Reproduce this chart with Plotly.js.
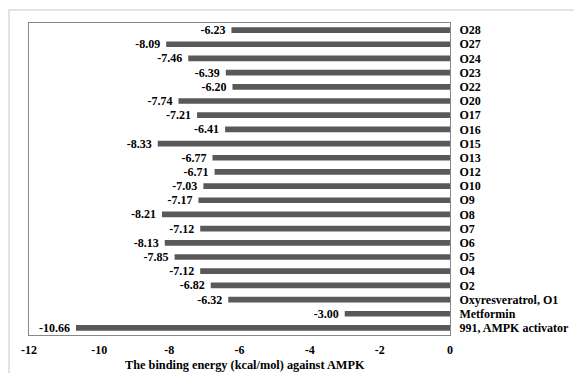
<!DOCTYPE html>
<html><head><meta charset="utf-8">
<script src="https://cdn.plot.ly/plotly-3.0.1.min.js"></script>
<style>
html,body{margin:0;padding:0;background:#fff;}
#wrap{position:relative;width:574px;height:373px;}
#frame{position:absolute;left:8px;top:9px;width:580px;height:380px;border-left:2px solid #e3e3e3;border-top:2px solid #e3e3e3;}
#chart{position:absolute;left:0;top:0;width:574px;height:373px;}
</style></head>
<body><div id="wrap"><div id="frame"></div><div id="chart"></div></div>
<script>
const categories = ["991, AMPK activator","Metformin","Oxyresveratrol, O1","O2","O4","O5","O6","O7","O8","O9","O10","O12","O13","O15","O16","O17","O20","O22","O23","O24","O27","O28"];
const values = [-10.66,-3.00,-6.32,-6.82,-7.12,-7.85,-8.13,-7.12,-8.21,-7.17,-7.03,-6.71,-6.77,-8.33,-6.41,-7.21,-7.74,-6.20,-6.39,-7.46,-8.09,-6.23];
const xTicks = [-12,-10,-8,-6,-4,-2,0];
const xTitle = 'The binding energy (kcal/mol) against AMPK';
const font = "'Liberation Serif','Times New Roman',serif";
const trace = {
  type:'bar', orientation:'h', y:categories, x:values,
  marker:{color:'#595959'}, width:0.4,
  text: values.map(v=>v.toFixed(2)+'\u00a0\u00a0'), textposition:'outside', constraintext:'none',
  textfont:{family:font,size:12,color:'#000',weight:700},
  cliponaxis:false, hoverinfo:'none'
};
const layout = {
  width:574, height:373,
  margin:{l:29,r:124,t:23,b:38},
  paper_bgcolor:'rgba(0,0,0,0)', plot_bgcolor:'rgba(0,0,0,0)',
  showlegend:false,
  font:{family:font,size:12,color:'#000'},
  xaxis:{range:[-12,0], tickvals:xTicks, ticktext:xTicks.map(String),
    tickfont:{family:font,size:12,weight:700}, showgrid:false, zeroline:false,
    showline:true, mirror:true, linecolor:'#878787', linewidth:1, ticks:'', ticklabelstandoff:4},
  yaxis:{type:'category', categoryorder:'array', categoryarray:categories, side:'right',
    tickfont:{family:font,size:12,weight:700}, showgrid:false, zeroline:false,
    showline:true, mirror:true, linecolor:'#878787', linewidth:1, ticks:'', ticklabelstandoff:6,
    range:[-0.5,categories.length-0.5]},
  annotations:[{text:xTitle, xref:'paper', yref:'paper', x:0.5, y:0, xanchor:'center', yanchor:'middle',
    xshift:5, yshift:-30, showarrow:false, font:{family:font,size:12.3,weight:700,color:'#000'}}]
};
Plotly.newPlot('chart',[trace],layout,{staticPlot:true,displayModeBar:false});
</script></body></html>
